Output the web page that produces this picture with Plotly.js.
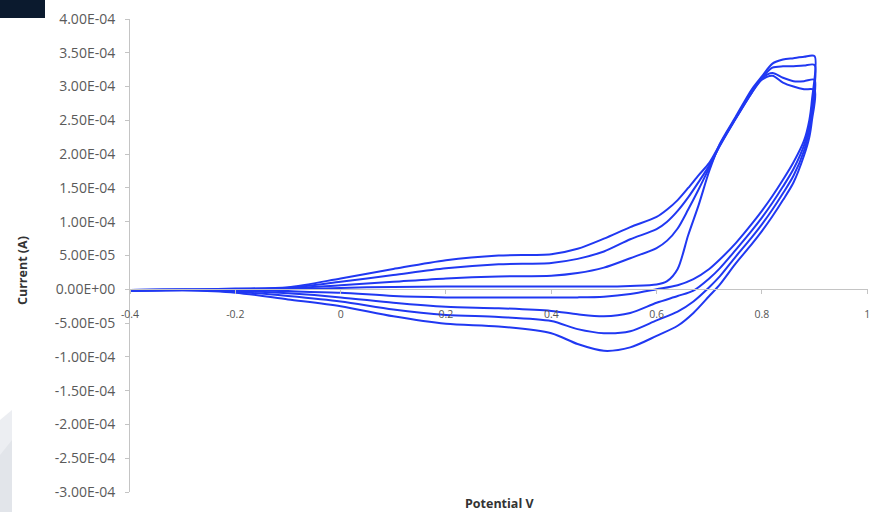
<!DOCTYPE html>
<html>
<head>
<meta charset="utf-8">
<script src="https://cdn.plot.ly/plotly-3.0.1.min.js"></script>
<style>html,body{margin:0;padding:0;background:#fff;}#chart{width:869px;height:512px;}</style>
</head>
<body>
<div id="chart"></div>
<script>
// Potential (V) sample points for the forward (anodic) and reverse (cathodic) sweeps
const fwdV = [-0.4,-0.3,-0.2,-0.1,0,0.1,0.2,0.3,0.4,0.45,0.5,0.55,0.6,0.62,0.64,0.66,0.68,0.70,0.72,0.75,0.78,0.80,0.82,0.84,0.86,0.88,0.9];
const revV = [0.895,0.89,0.88,0.86,0.84,0.82,0.80,0.78,0.75,0.72,0.70,0.67,0.64,0.6,0.55,0.5,0.45,0.4,0.3,0.2,0.1,0,-0.1,-0.2,-0.3,-0.4];

// Currents in units of 1e-5 A, one forward and one reverse branch per cycle
const fwd1 = [-0.2,-0.1,-0.05,0.0,0.2,0.35,0.4,0.4,0.4,0.4,0.4,0.5,0.7,1.2,3.0,8.0,12.5,17.5,21.5,25.5,29.5,31.5,33.4,34.0,34.2,34.4,34.5];
const fwd2 = [-0.2,-0.1,0.0,0.1,0.6,1.1,1.6,1.9,2.0,2.4,3.2,4.6,6.1,7.2,9.0,11.8,14.8,18.0,21.3,25.3,29.2,31.3,32.8,33.0,33.0,33.1,33.2];
const fwd3 = [-0.2,-0.1,0.05,0.2,1.1,2.1,3.1,3.7,3.9,4.5,5.6,7.4,8.9,10.0,11.6,13.6,15.9,18.3,21.2,25.2,29.0,31.2,32.0,31.3,30.8,30.8,31.0];
const fwd4 = [-0.2,-0.1,0.1,0.3,1.6,3.0,4.3,5.0,5.2,6.0,7.5,9.2,10.7,11.8,13.2,15.0,16.9,18.7,21.4,25.3,29.0,31.0,31.6,30.6,30.0,29.6,29.5];

const rev1 = [28.0,25.0,22.0,18.8,16.2,13.8,11.6,9.6,6.8,4.4,3.0,1.5,0.6,0.0,-0.7,-1.1,-1.2,-1.2,-1.2,-1.2,-1.0,-0.5,-0.3,-0.1,0.0,-0.1];
const rev2 = [27.0,24.3,21.3,17.8,15.2,12.8,10.6,8.6,5.8,3.1,1.6,-0.2,-1.0,-2.0,-3.5,-4.0,-3.7,-3.2,-2.8,-2.6,-2.0,-1.2,-0.6,-0.2,-0.05,-0.1];
const rev3 = [26.0,23.5,20.5,16.8,14.2,11.8,9.6,7.6,4.8,1.9,0.3,-1.8,-3.3,-4.6,-6.2,-6.5,-5.9,-4.7,-4.1,-3.8,-3.0,-1.8,-1.0,-0.35,-0.1,-0.1];
const rev4 = [25.0,22.5,19.8,15.8,13.2,10.8,8.6,6.6,3.8,0.7,-1.0,-3.5,-5.4,-6.9,-8.6,-9.1,-8.1,-6.5,-5.5,-5.1,-4.0,-2.5,-1.5,-0.5,-0.15,-0.1];

const currentScale = 1e-5;

// Axis tick values and labels
const xTickVals = [-0.4,-0.2,0,0.2,0.4,0.6,0.8,1];
const xTickText = ["-0.4","-0.2","0","0.2","0.4","0.6","0.8","1"];
const yTickVals = [4e-4,3.5e-4,3e-4,2.5e-4,2e-4,1.5e-4,1e-4,5e-5,0,-5e-5,-1e-4,-1.5e-4,-2e-4,-2.5e-4,-3e-4];
const yTickText = ["4.00E-04","3.50E-04","3.00E-04","2.50E-04","2.00E-04","1.50E-04","1.00E-04","5.00E-05","0.00E+00","-5.00E-05","-1.00E-04","-1.50E-04","-2.00E-04","-2.50E-04","-3.00E-04"];

const cycles = [[fwd1,rev1],[fwd2,rev2],[fwd3,rev3],[fwd4,rev4]];
const traces = cycles.map(function(c, i){
  return {
    type: 'scatter', mode: 'lines',
    name: 'Cycle ' + (i+1),
    x: fwdV.concat(revV),
    y: c[0].concat(c[1]).map(function(v){ return v * currentScale; }),
    line: {color: '#2038f2', width: 2, shape: 'spline', smoothing: 0.8},
    hoverinfo: 'x+y'
  };
});

// pixel -> paper helpers for decorative shapes / titles in the margins
const L = 130, R = 868, T = 19, B = 492;
function px(x){ return (x - L) / (R - L); }
function py(y){ return (B - y) / (B - T); }

const layout = {
  width: 869, height: 512,
  margin: {l: 130, r: 1, t: 19, b: 20, pad: 0},
  paper_bgcolor: '#ffffff', plot_bgcolor: '#ffffff',
  showlegend: false,
  font: {family: 'Open Sans, Liberation Sans, sans-serif', size: 11, color: '#555'},
  xaxis: {
    range: [-0.4, 1.0015], anchor: 'free', position: 3/7,
    showline: true, linecolor: '#c4c4c4', linewidth: 1,
    ticks: 'outside', ticklen: 4, tickcolor: '#c4c4c4',
    tickvals: xTickVals, ticktext: xTickText,
    showgrid: false, zeroline: false,
    tickfont: {size: 10.5, color: '#555'},
    ticklabelstandoff: 11,
    ticklabeloverflow: 'allow'
  },
  yaxis: {
    range: [-3e-4, 4e-4],
    showline: true, linecolor: '#c4c4c4', linewidth: 1,
    ticks: 'outside', ticklen: 4, tickcolor: '#c4c4c4',
    tickvals: yTickVals, ticktext: yTickText,
    showgrid: false, zeroline: false,
    tickfont: {size: 14, color: '#5a5a5a'},
    ticklabelstandoff: 7
  },
  annotations: [
    {text: '<b>Potential V</b>', xref: 'paper', yref: 'paper',
     x: 0.5, y: 0, yshift: -11, xanchor: 'center', yanchor: 'middle',
     showarrow: false, font: {size: 12.5, color: '#333'}},
    {text: '<b>Current (A)</b>', xref: 'paper', yref: 'paper',
     x: px(22), y: py(271), xanchor: 'center', yanchor: 'middle', textangle: -90,
     showarrow: false, font: {size: 12.5, color: '#333'}}
  ],
  shapes: [
    {type: 'rect', xref: 'paper', yref: 'paper', x0: px(0), x1: px(45), y0: py(18), y1: py(0),
     fillcolor: '#0b1a2e', line: {width: 0}, layer: 'above'},
    {type: 'path', xref: 'paper', yref: 'paper',
     path: 'M ' + px(0) + ' ' + py(420) + ' L ' + px(12) + ' ' + py(410) + ' L ' + px(12) + ' ' + py(512) + ' L ' + px(0) + ' ' + py(512) + ' Z',
     fillcolor: '#eceef2', line: {width: 0}, layer: 'above'},
    {type: 'path', xref: 'paper', yref: 'paper',
     path: 'M ' + px(0) + ' ' + py(455) + ' L ' + px(12) + ' ' + py(440) + ' L ' + px(12) + ' ' + py(512) + ' L ' + px(0) + ' ' + py(512) + ' Z',
     fillcolor: '#e2e5ea', line: {width: 0}, layer: 'above'}
  ]
};

Plotly.newPlot('chart', traces, layout, {displayModeBar: false, staticPlot: true});
</script>
</body>
</html>
